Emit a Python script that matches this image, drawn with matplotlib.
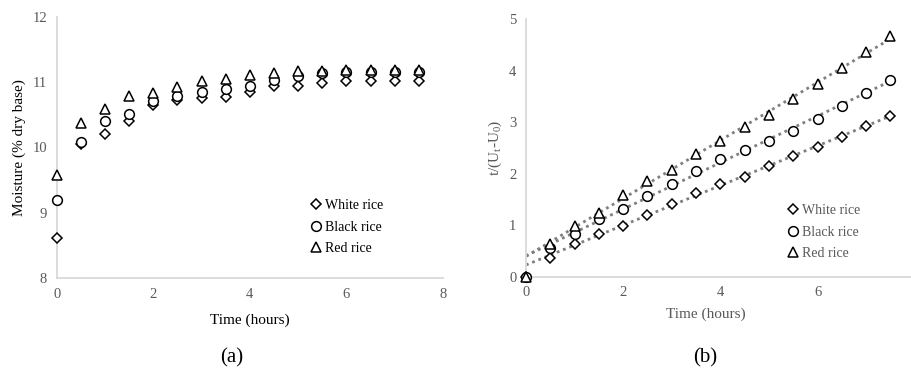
import numpy as np
import matplotlib
matplotlib.use('Agg')
import matplotlib.pyplot as plt

plt.rcParams['font.family'] = ['Liberation Serif', 'DejaVu Serif']
plt.rcParams['mathtext.fontset'] = 'custom'
plt.rcParams['mathtext.rm'] = 'Liberation Serif'
plt.rcParams['mathtext.it'] = 'Liberation Serif:italic'

# time points (hours)
time_h = [0, 0.5, 1, 1.5, 2, 2.5, 3, 3.5, 4, 4.5, 5, 5.5, 6, 6.5, 7, 7.5]

# (a) moisture, % dry base
white_moist = [8.62, 10.06, 10.21, 10.41, 10.65, 10.73, 10.76, 10.78, 10.85, 10.95,
               10.95, 10.99, 11.02, 11.02, 11.02, 11.02]
black_moist = [9.19, 10.09, 10.41, 10.52, 10.72, 10.79, 10.85, 10.89, 10.95, 11.03,
               11.09, 11.14, 11.16, 11.16, 11.16, 11.16]
red_moist = [9.58, 10.37, 10.59, 10.79, 10.84, 10.93, 11.02, 11.05, 11.11, 11.14,
             11.18, 11.18, 11.19, 11.19, 11.19, 11.19]

# (b) t/(Ut-U0)
white_t = [0, 0.36, 0.64, 0.83, 0.98, 1.19, 1.41, 1.62, 1.80, 1.94, 2.15, 2.34,
           2.52, 2.72, 2.93, 3.13]
black_t = [0, 0.55, 0.82, 1.12, 1.31, 1.57, 1.81, 2.06, 2.28, 2.47, 2.64, 2.83,
           3.06, 3.32, 3.57, 3.83]
red_t = [0, 0.63, 0.98, 1.24, 1.59, 1.85, 2.07, 2.38, 2.63, 2.90, 3.15, 3.45,
         3.74, 4.06, 4.37, 4.68]

labels = ['White rice', 'Black rice', 'Red rice']
markers = [('D', 4.8), ('o', 7), ('^', 7)]

gray_txt = '#595959'
spine_col = '#d9d9d9'

fig = plt.figure(figsize=(9.11, 3.8), dpi=100)
ax1 = fig.add_axes([56.7 / 911, (380 - 278) / 380, (443 - 56.7) / 911, 261 / 380])
ax2 = fig.add_axes([526 / 911, (380 - 276.7) / 380, 388.7 / 911, 257.4 / 380])


def style(ax, tick_col):
    for s in ['top', 'right']:
        ax.spines[s].set_visible(False)
    for s in ['left', 'bottom']:
        ax.spines[s].set_color(spine_col)
        ax.spines[s].set_linewidth(1.3)
    ax.tick_params(length=0, pad=7, labelsize=10.5, labelcolor=tick_col)


# panel (a)
for ys, (m, ms), lab in zip([white_moist, black_moist, red_moist], markers, labels):
    ax1.plot(time_h, ys, linestyle='none', marker=m, ms=ms, mfc='white',
             mec='black', mew=1.1, label=lab, clip_on=False, zorder=3)
ax1.set_xlim(0, 8)
ax1.set_ylim(8, 12)
ax1.set_xticks([0, 2, 4, 6, 8])
ax1.set_yticks([8, 9, 10, 11, 12])
style(ax1, gray_txt)
ax1.set_xlabel('Time (hours)', fontsize=11, labelpad=9)
ax1.set_ylabel('Moisture (% dry base)', fontsize=11)
ax1.yaxis.set_label_coords(-31 / 386, 0.5)
leg1 = ax1.legend(loc='center left', bbox_to_anchor=(310.9 / 911, (380 - 227) / 380),
                  bbox_transform=fig.transFigure, frameon=False, fontsize=10,
                  handlelength=0.8, handletextpad=0.25, labelspacing=0.6,
                  borderpad=0, borderaxespad=0)

# panel (b)
tt = np.array(time_h)
for ys, (m, ms), lab in zip([white_t, black_t, red_t], markers, labels):
    ys = np.array(ys)
    k, b = np.polyfit(tt[1:], ys[1:], 1)
    xs = np.array([0, 7.5])
    ax2.plot(xs, k * xs + b, color='#7f7f7f', lw=2, linestyle=(0, (1, 1.4)), zorder=2)
    ax2.plot(tt, ys, linestyle='none', marker=m, ms=ms, mfc='white',
             mec='black', mew=1.1, label=lab, clip_on=False, zorder=3)
ax2.set_xlim(0, 8)
ax2.set_ylim(0, 5)
ax2.set_xticks([0, 2, 4, 6])
ax2.set_yticks([0, 1, 2, 3, 4, 5])
style(ax2, gray_txt)
ax2.set_xlabel('Time (hours)', fontsize=11, color=gray_txt)
ax2.xaxis.set_label_coords(3.7 / 8, -31 / 257.4)
ax2.set_ylabel(r't/(U$_\mathrm{t}$-U$_\mathrm{0}$)', fontsize=11, color=gray_txt)
ax2.yaxis.set_label_coords(-22 / 388.7, 0.5)
leg2 = ax2.legend(loc='center left', bbox_to_anchor=(787.8 / 911, (380 - 232) / 380),
                  bbox_transform=fig.transFigure, frameon=False, fontsize=10,
                  handlelength=0.8, handletextpad=0.25, labelspacing=0.6,
                  borderpad=0, borderaxespad=0)
for t in leg2.get_texts():
    t.set_color(gray_txt)

fig.text(232 / 911, (380 - 358) / 380, '(a)', fontsize=15, ha='center', va='center')
fig.text(705 / 911, (380 - 358) / 380, '(b)', fontsize=15, ha='center', va='center')

fig.savefig('out.png', dpi=100)
